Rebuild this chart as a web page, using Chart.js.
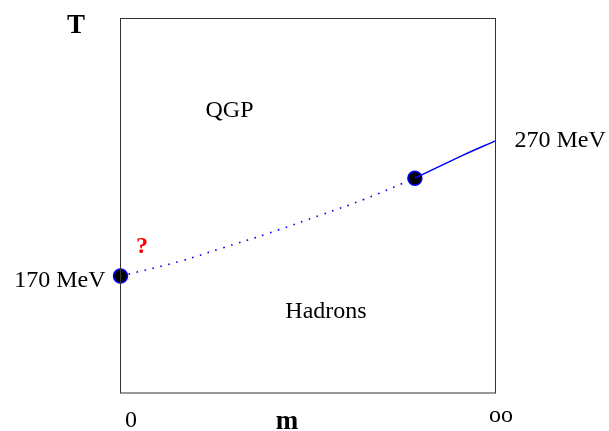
<!DOCTYPE html>
<html>
<head>
<meta charset="utf-8">
<script src="https://cdn.jsdelivr.net/npm/chart.js@4"></script>
<style>
  body { margin: 0; background: #fff; }
  canvas { display: block; }
</style>
</head>
<body>
<canvas id="phase" width="609" height="431"></canvas>
<script>
// m goes from 0 (left) to infinity (right), shown on a 0..1 scale
const dottedM = [0, 0.16, 0.27, 0.4, 0.535, 0.65, 0.785];
const dottedT = [170, 181, 190.5, 202, 215, 226.5, 242];
const solidM = [0.785, 0.914, 1];
const solidT = [242, 259, 269.5];
const pointM = [0, 0.785];
const pointT = [170, 242];
const yTicks = [170, 270];
const xTickLabels = ['0', 'oo'];

const serif = '"Liberation Serif", "DejaVu Serif", serif';

const toXY = (xs, ys) => xs.map((x, i) => ({ x: x, y: ys[i] }));

// frame + all the text labels
const labelsPlugin = {
    id: 'labels',
    afterDraw(chart) {
        const ctx = chart.ctx;
        const a = chart.chartArea;
        const ys = chart.scales.y;
        const xs = chart.scales.x;
        ctx.save();
        ctx.strokeStyle = '#333';
        ctx.lineWidth = 1;
        ctx.strokeRect(a.left, a.top, a.right - a.left, a.bottom - a.top);

        ctx.fillStyle = '#000';
        ctx.textBaseline = 'alphabetic';
        ctx.font = '24px ' + serif;
        ctx.textAlign = 'right';
        ctx.fillText(yTicks[0] + ' MeV', a.left - 15, ys.getPixelForValue(yTicks[0]) + 11);
        ctx.textAlign = 'left';
        ctx.fillText(yTicks[1] + ' MeV', a.right + 19, ys.getPixelForValue(yTicks[1]) + 7);

        ctx.textAlign = 'center';
        ctx.fillText(xTickLabels[0], xs.getPixelForValue(0) + 10.5, 427);
        ctx.fillText(xTickLabels[1], xs.getPixelForValue(1) + 5.5, 422);

        ctx.fillText('QGP', 229.5, 117);
        ctx.fillText('Hadrons', 326, 318);

        ctx.font = 'bold 27px ' + serif;
        ctx.fillText('T', 76, 33);
        ctx.fillText('m', 287, 429);

        ctx.fillStyle = '#ff0000';
        ctx.font = 'bold 24px ' + serif;
        ctx.fillText('?', 142, 253);
        ctx.restore();
    }
};

new Chart(document.getElementById('phase'), {
    type: 'scatter',
    data: {
        datasets: [
            {
                data: toXY(dottedM, dottedT),
                showLine: true,
                borderColor: '#0000ff',
                borderWidth: 1.6,
                borderDash: [1.6, 6.6],
                pointRadius: 0,
                tension: 0.4,
                clip: false
            },
            {
                data: toXY(solidM, solidT),
                showLine: true,
                borderColor: '#0000ff',
                borderWidth: 1.5,
                pointRadius: 0,
                tension: 0.4,
                clip: false
            },
            {
                data: toXY(pointM, pointT),
                showLine: false,
                backgroundColor: '#000',
                borderColor: '#0000ff',
                borderWidth: 1.5,
                pointRadius: 7,
                clip: false
            }
        ]
    },
    options: {
        responsive: false,
        animation: false,
        layout: { padding: { left: 120.5, top: 18.5, right: 113.5, bottom: 38 } },
        plugins: { legend: { display: false }, tooltip: { enabled: false } },
        scales: {
            x: { type: 'linear', min: 0, max: 1, display: false },
            y: { type: 'linear', min: 84, max: 359.5, display: false }
        }
    },
    plugins: [labelsPlugin]
});
</script>
</body>
</html>
